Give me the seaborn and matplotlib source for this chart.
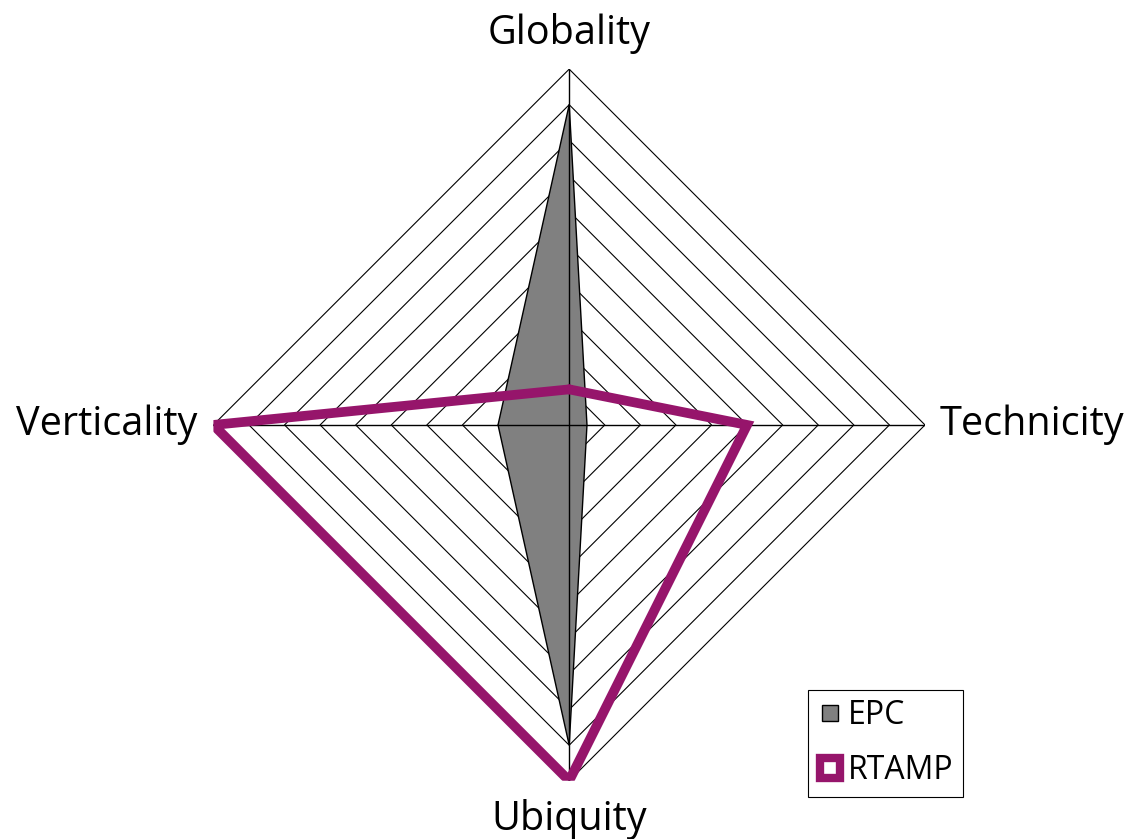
import numpy as np
import matplotlib
matplotlib.use("Agg")
import matplotlib.pyplot as plt
import seaborn as sns
from matplotlib.lines import Line2D

sns.set_style("white")
plt.rcParams['font.family'] = ['Open Sans', 'DejaVu Sans']
plt.rcParams['text.color'] = 'black'

# data
axes_names = ['Globality', 'Technicity', 'Ubiquity', 'Verticality']
epc = [9, 0.5, 9, 2]
rtamp = [1, 5, 10, 10]
levels = list(range(1, 11))
purple = '#96156B'

theta = np.linspace(0, 2 * np.pi, len(axes_names), endpoint=False)
theta_closed = np.concatenate([theta, theta[:1]])

fig = plt.figure(figsize=(11.26, 8.39), dpi=100)
ax = fig.add_axes([0.1895, 0.069, 0.632, 0.849], projection='polar')
ax.set_theta_offset(np.pi / 2)
ax.set_theta_direction(-1)
ax.set_ylim(0, 10)
ax.grid(False)
ax.spines['polar'].set_visible(False)
ax.set_xticks([])
ax.set_yticks([])
ax.patch.set_alpha(0)

# grid rings
for lv in levels:
    ax.plot(theta_closed, [lv] * len(theta_closed), color='black', lw=0.8, zorder=1)

# EPC filled
epc_c = epc + epc[:1]
ax.fill(theta_closed, epc_c, facecolor='#808080', edgecolor='black', lw=1, zorder=2)

# spokes
for t in theta:
    ax.plot([t, t], [0, 10], color='black', lw=1, zorder=3)

# RTAMP line
rtamp_c = rtamp + rtamp[:1]
ax.plot(theta_closed, rtamp_c, color=purple, lw=7, solid_joinstyle='miter', zorder=4)

# axis labels
fs = 28.5
ax.text(0, 11.0, axes_names[0], ha='center', va='center', fontsize=fs)
ax.text(theta[1], 10.4, axes_names[1], ha='left', va='center', fontsize=fs)
ax.text(theta[2], 11.1, axes_names[2], ha='center', va='center', fontsize=fs)
ax.text(theta[3], 10.45, axes_names[3], ha='right', va='center', fontsize=fs)

handles = [
    Line2D([], [], ls='none', marker='s', markersize=12, markerfacecolor='#808080',
           markeredgecolor='black', markeredgewidth=1),
    Line2D([], [], ls='none', marker='s', markersize=15, markerfacecolor='white',
           markeredgecolor=purple, markeredgewidth=6),
]
leg = fig.legend(handles, ['EPC', 'RTAMP'], loc='lower left',
                 bbox_to_anchor=(0.7176, 0.05), fontsize=23, frameon=True,
                 fancybox=False, edgecolor='black', framealpha=1,
                 handlelength=0.75, handleheight=0.75, handletextpad=0.2,
                 borderpad=0.3, labelspacing=0.7, borderaxespad=0)
leg.get_frame().set_linewidth(0.8)

fig.savefig('out.png', dpi=100)
